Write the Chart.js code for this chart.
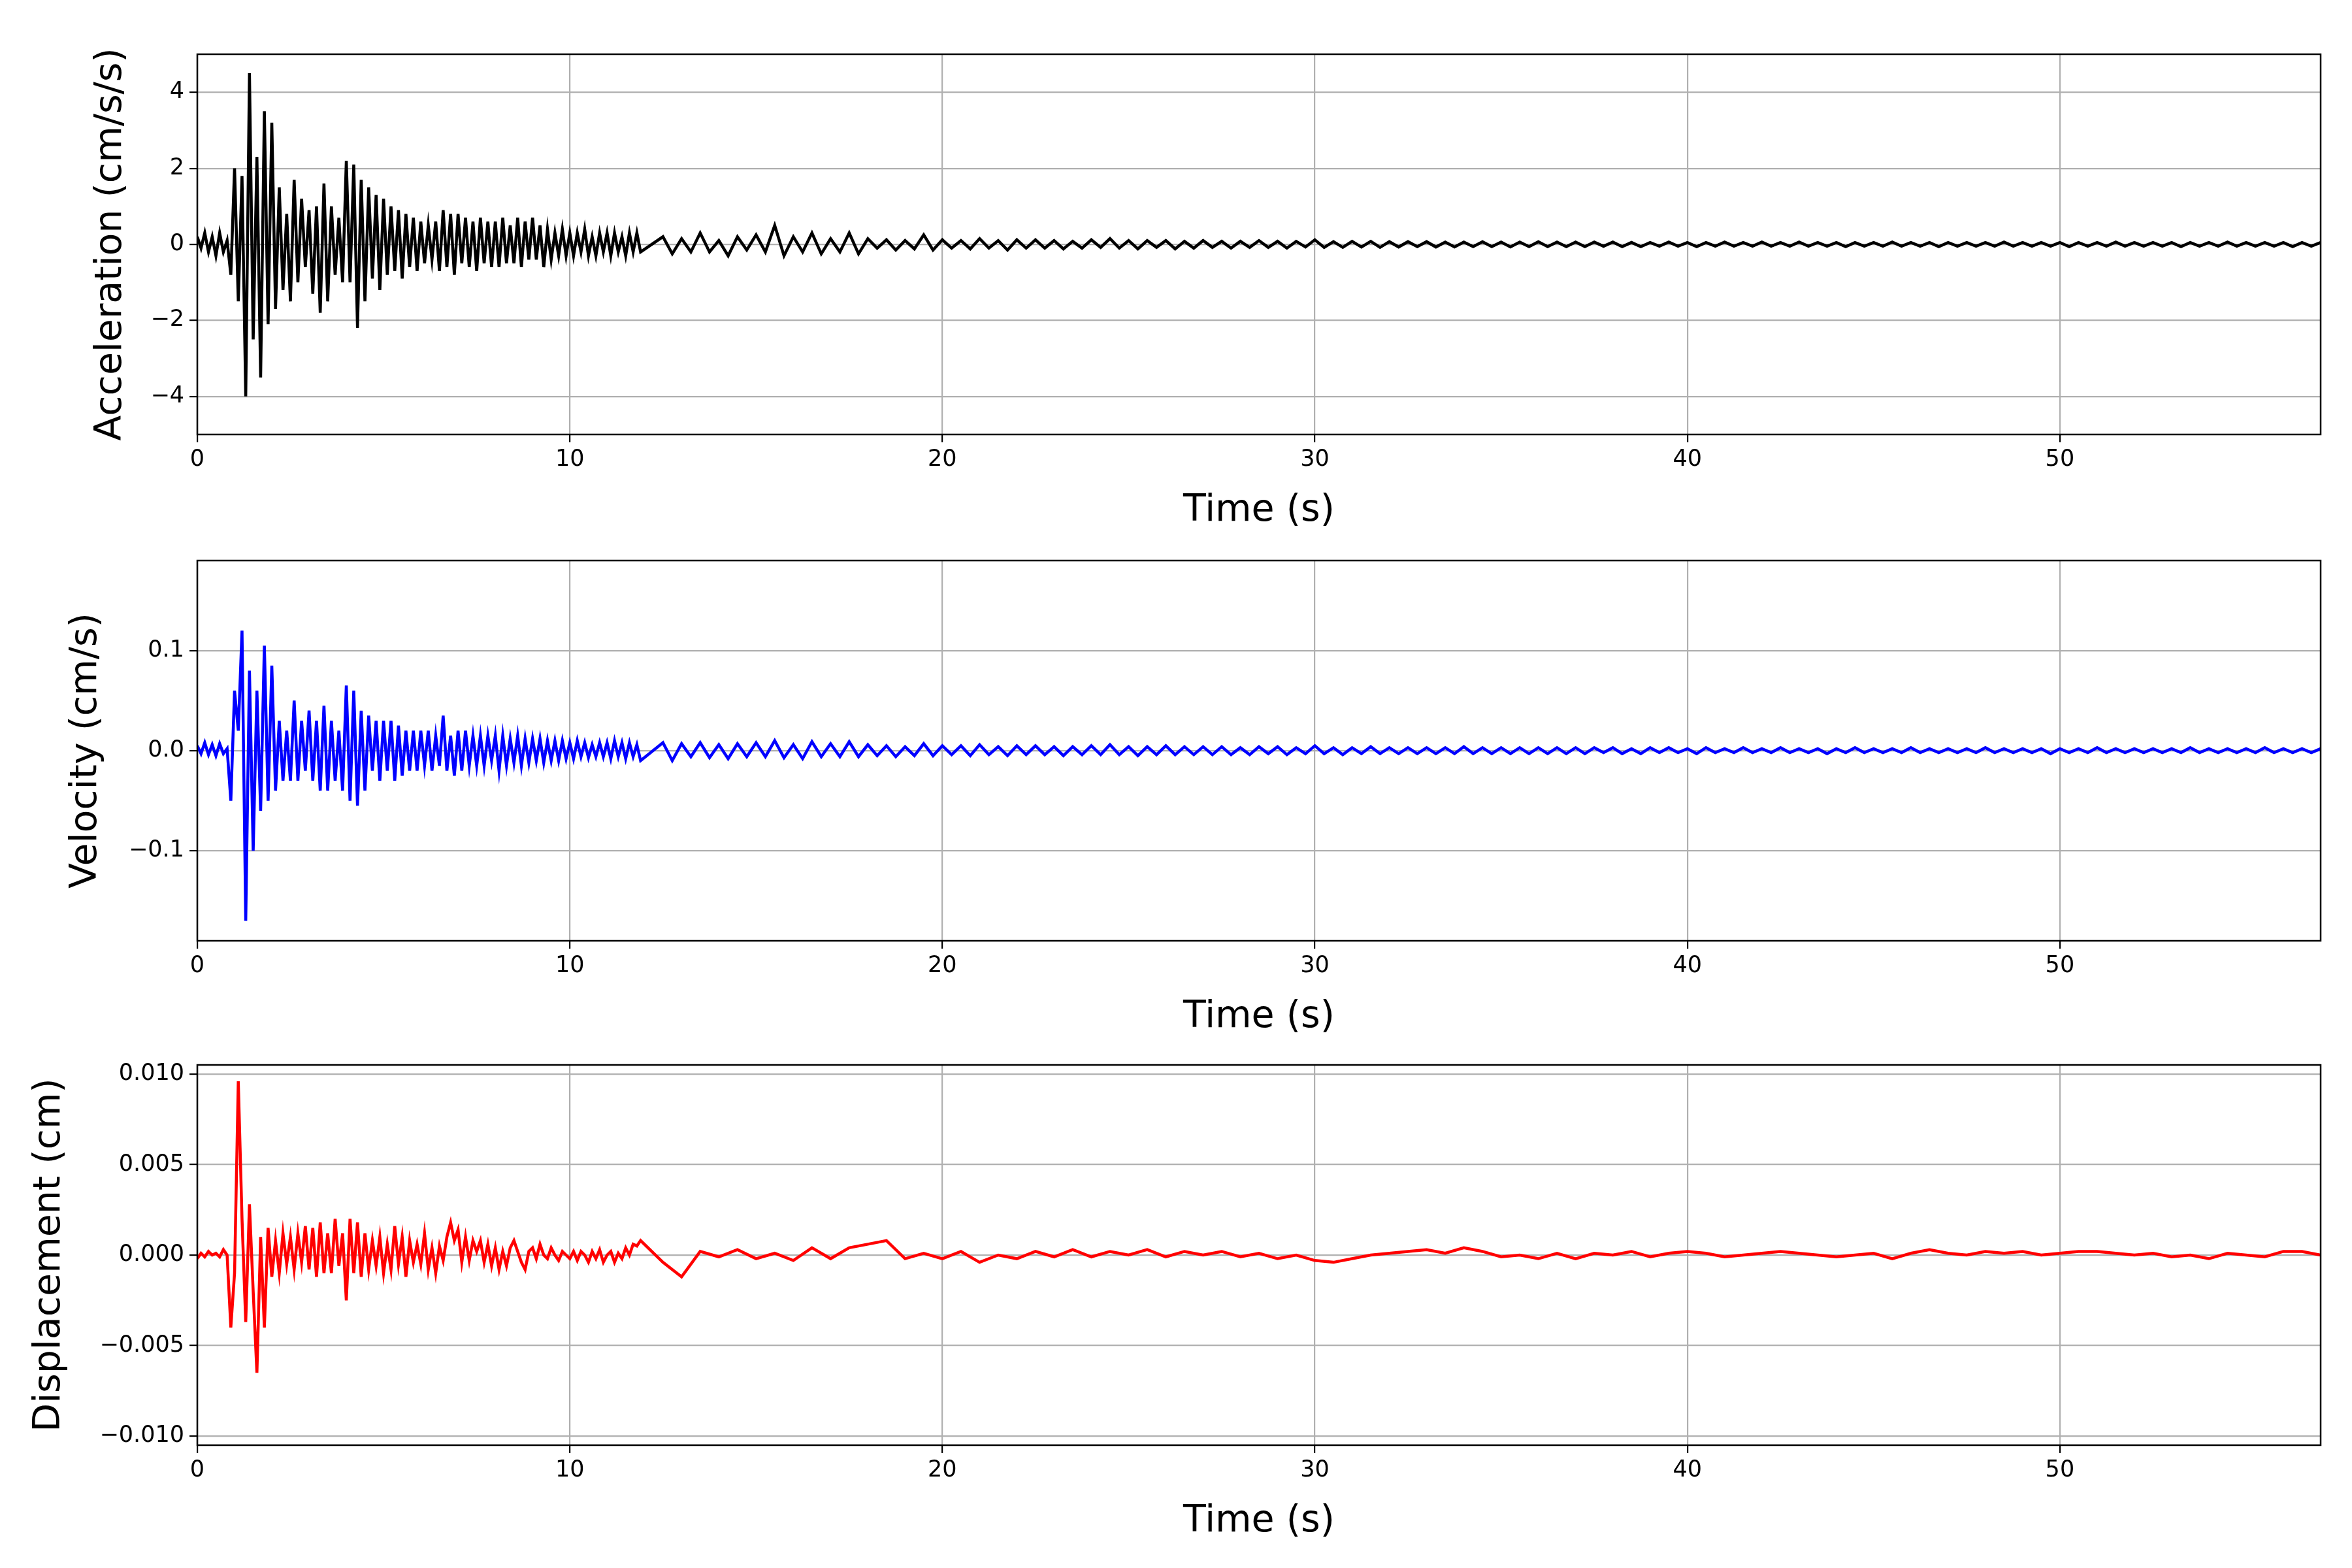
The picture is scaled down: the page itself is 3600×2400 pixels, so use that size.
<!DOCTYPE html>
<html>
<head>
<meta charset="utf-8">
<script src="https://cdn.jsdelivr.net/npm/chart.js@4/dist/chart.umd.min.js"></script>
<style>
body{margin:0;background:#fff;width:3600px;height:2400px;position:relative;overflow:hidden}
canvas{position:absolute;left:0}
</style>
</head>
<body>
<canvas id="c0" width="3600" height="820" style="top:0px"></canvas>
<canvas id="c1" width="3600" height="820" style="top:775px"></canvas>
<canvas id="c2" width="3600" height="820" style="top:1547px"></canvas>
<script>
// sampling: 0.1 s for first 12 s, then coarser to the end
var earlyStep = 0.1, lateStart = 12.5, lateStepFine = 0.25, lateStepDisp = 0.5;
var xTicks = [0, 10, 20, 30, 40, 50];

var accEarly = [0.2,-0.1,0.3,-0.2,0.2,-0.3,0.3,-0.2,0.1,-0.8,
 2.0,-1.5,1.8,-4.0,4.5,-2.5,2.3,-3.5,3.5,-2.1,
 3.2,-1.7,1.5,-1.2,0.8,-1.5,1.7,-1.0,1.2,-0.6,
 0.9,-1.3,1.0,-1.8,1.6,-1.5,1.0,-0.8,0.7,-1.0,
 2.2,-1.0,2.1,-2.2,1.7,-1.5,1.5,-0.9,1.3,-1.2,
 1.2,-0.8,1.0,-0.7,0.9,-0.9,0.8,-0.6,0.7,-0.7,
 0.6,-0.5,0.5,-0.4,0.6,-0.7,0.9,-0.6,0.8,-0.8,
 0.8,-0.5,0.7,-0.6,0.6,-0.7,0.7,-0.5,0.6,-0.6,
 0.6,-0.6,0.7,-0.5,0.5,-0.5,0.7,-0.6,0.6,-0.4,
 0.7,-0.4,0.5,-0.6,0.4,-0.4,0.3,-0.3,0.4,-0.3,
 0.3,-0.3,0.3,-0.2,0.4,-0.3,0.2,-0.3,0.3,-0.2,
 0.3,-0.3,0.3,-0.2,0.2,-0.3,0.3,-0.2,0.3,-0.2];
var accLate = [0.2,-0.25,0.15,-0.2,0.3,-0.2,0.1,-0.3,0.2,-0.15,0.25,-0.2,0.5,-0.3,0.2,-0.2,0.3,-0.25,0.15,-0.2,
 0.3,-0.25,0.15,-0.1,0.12,-0.15,0.1,-0.12,0.25,-0.15,0.12,-0.1,0.1,-0.12,0.15,-0.1,0.1,-0.15,0.12,-0.1,
 0.12,-0.1,0.1,-0.12,0.08,-0.1,0.12,-0.08,0.15,-0.1,0.1,-0.12,0.1,-0.08,0.1,-0.12,0.08,-0.1,0.1,-0.08,
 0.08,-0.1,0.08,-0.08,0.1,-0.08,0.08,-0.1,0.08,-0.07,0.12,-0.08,0.07,-0.08,0.08,-0.07,0.08,-0.08,0.07,-0.07,
 0.07,-0.06,0.07,-0.07,0.06,-0.07,0.06,-0.06,0.07,-0.06,0.06,-0.07,0.06,-0.06,0.07,-0.06,0.06,-0.06,0.06,-0.06,
 0.06,-0.05,0.06,-0.06,0.05,-0.06,0.05,-0.05,0.06,-0.05,0.05,-0.06,0.05,-0.05,0.06,-0.05,0.05,-0.05,0.06,-0.05,
 0.05,-0.05,0.06,-0.05,0.05,-0.05,0.05,-0.06,0.05,-0.05,0.05,-0.05,0.06,-0.05,0.05,-0.05,0.05,-0.06,0.05,-0.05,
 0.05,-0.05,0.05,-0.05,0.06,-0.05,0.05,-0.05,0.05,-0.05,0.05,-0.06,0.05,-0.05,0.05,-0.05,0.06,-0.05,0.05,-0.05,
 0.05,-0.05,0.05,-0.06,0.05,-0.05,0.05,-0.05,0.06,-0.05,0.05,-0.05,0.05,-0.05,0.05,-0.06,0.05,-0.05,0.05,-0.05];

var velEarly = [0.005,-0.003,0.008,-0.004,0.006,-0.005,0.007,-0.003,0.002,-0.05,
 0.06,0.02,0.12,-0.17,0.08,-0.10,0.06,-0.06,0.105,-0.05,
 0.085,-0.04,0.03,-0.03,0.02,-0.03,0.05,-0.03,0.03,-0.02,
 0.04,-0.03,0.03,-0.04,0.045,-0.04,0.03,-0.03,0.02,-0.04,
 0.065,-0.05,0.06,-0.055,0.04,-0.04,0.035,-0.02,0.03,-0.03,
 0.03,-0.02,0.03,-0.03,0.025,-0.025,0.02,-0.02,0.02,-0.02,
 0.02,-0.015,0.02,-0.02,0.015,-0.015,0.035,-0.02,0.015,-0.025,
 0.02,-0.02,0.02,-0.015,0.015,-0.015,0.015,-0.015,0.015,-0.01,
 0.015,-0.02,0.015,-0.015,0.012,-0.012,0.015,-0.015,0.012,-0.012,
 0.012,-0.01,0.012,-0.012,0.01,-0.01,0.01,-0.01,0.01,-0.008,
 0.008,-0.008,0.01,-0.006,0.008,-0.007,0.006,-0.006,0.008,-0.006,
 0.008,-0.008,0.01,-0.006,0.008,-0.008,0.008,-0.006,0.006,-0.01];
var velLate = [0.008,-0.01,0.007,-0.006,0.008,-0.007,0.006,-0.008,0.007,-0.006,0.008,-0.006,0.01,-0.007,0.006,-0.008,0.009,-0.006,0.007,-0.006,
 0.009,-0.006,0.006,-0.005,0.005,-0.006,0.004,-0.005,0.007,-0.005,0.005,-0.004,0.005,-0.005,0.006,-0.004,0.004,-0.005,0.005,-0.004,
 0.005,-0.004,0.004,-0.005,0.004,-0.004,0.005,-0.004,0.006,-0.004,0.004,-0.005,0.004,-0.004,0.005,-0.004,0.004,-0.004,0.004,-0.004,
 0.004,-0.004,0.003,-0.004,0.004,-0.003,0.004,-0.004,0.003,-0.003,0.005,-0.003,0.003,-0.004,0.003,-0.003,0.004,-0.003,0.003,-0.003,
 0.003,-0.003,0.003,-0.003,0.003,-0.003,0.004,-0.003,0.003,-0.003,0.003,-0.003,0.003,-0.003,0.003,-0.003,0.003,-0.003,0.003,-0.003,
 0.003,-0.002,0.003,-0.003,0.002,-0.003,0.003,-0.002,0.003,-0.002,0.002,-0.003,0.003,-0.002,0.002,-0.002,0.003,-0.002,0.002,-0.002,
 0.003,-0.002,0.002,-0.002,0.002,-0.003,0.002,-0.002,0.003,-0.002,0.002,-0.002,0.002,-0.002,0.003,-0.002,0.002,-0.002,0.002,-0.002,
 0.002,-0.002,0.003,-0.002,0.002,-0.002,0.002,-0.002,0.002,-0.003,0.002,-0.002,0.002,-0.002,0.003,-0.002,0.002,-0.002,0.002,-0.002,
 0.002,-0.002,0.002,-0.002,0.003,-0.002,0.002,-0.002,0.002,-0.002,0.002,-0.002,0.003,-0.002,0.002,-0.002,0.002,-0.002,0.002,-0.002];

var dispEarly = [-0.0002,0.0001,-0.0001,0.0002,0,0.0001,-0.0001,0.0003,0,-0.0040,
 -0.0010,0.0096,0.0020,-0.0037,0.0028,-0.0020,-0.0065,0.0010,-0.0040,0.0015,
 -0.0012,0.0008,-0.0010,0.0012,-0.0005,0.0010,-0.0008,0.0012,-0.0004,0.0016,
 -0.0008,0.0015,-0.0012,0.0018,-0.0010,0.0012,-0.0010,0.0020,-0.0006,0.0012,
 -0.0025,0.0020,-0.0010,0.0018,-0.0012,0.0012,-0.0008,0.0008,-0.0006,0.0010,
 -0.0010,0.0006,-0.0008,0.0016,-0.0005,0.0010,-0.0012,0.0008,-0.0004,0.0006,
 -0.0005,0.0012,-0.0008,0.0004,-0.0010,0.0005,-0.0003,0.0010,0.0018,0.0008,
 0.0014,-0.0004,0.0010,-0.0003,0.0008,0.0002,0.0008,-0.0004,0.0006,-0.0006,
 0.0004,-0.0008,0.0002,-0.0006,0.0004,0.0008,0.0002,-0.0004,-0.0008,0.0002,
 0.0004,-0.0002,0.0006,0,-0.0002,0.0004,0,-0.0003,0.0002,0,
 -0.0002,0.0002,-0.0003,0.0002,0,-0.0004,0.0002,-0.0002,0.0003,-0.0004,
 0,0.0002,-0.0004,0.0001,-0.0002,0.0004,0,0.0006,0.0005,0.0008];
var dispLate = [-0.0004,-0.0012,0.0002,-0.0001,0.0003,-0.0002,0.0001,-0.0003,0.0004,-0.0002,
 0.0004,0.0006,0.0008,-0.0002,0.0001,-0.0002,0.0002,-0.0004,0,-0.0002,
 0.0002,-0.0001,0.0003,-0.0001,0.0002,0,0.0003,-0.0001,0.0002,0,
 0.0002,-0.0001,0.0001,-0.0002,0,-0.0003,-0.0004,-0.0002,0,0.0001,
 0.0002,0.0003,0.0001,0.0004,0.0002,-0.0001,0,-0.0002,0.0001,-0.0002,
 0.0001,0,0.0002,-0.0001,0.0001,0.0002,0.0001,-0.0001,0,0.0001,
 0.0002,0.0001,0,-0.0001,0,0.0001,-0.0002,0.0001,0.0003,0.0001,
 0,0.0002,0.0001,0.0002,0,0.0001,0.0002,0.0002,0.0001,0,
 0.0001,-0.0001,0,-0.0002,0.0001,0,-0.0001,0.0002,0.0002,0];

var accTicks = [-4, -2, 0, 2, 4];
var velTicks = [-0.1, 0.0, 0.1];
var dispTicks = [-0.010, -0.005, 0.000, 0.005, 0.010];

function points(early, late, step) {
  var pts = [];
  early.forEach(function(v, i){ pts.push({x: +(i*earlyStep).toFixed(2), y: v}); });
  late.forEach(function(v, i){ pts.push({x: lateStart + i*step, y: v}); });
  return pts;
}

var frame = {
  id: 'frame',
  afterDraw: function(chart){
    var a = chart.chartArea, ctx = chart.ctx;
    ctx.save(); ctx.strokeStyle = '#000'; ctx.lineWidth = 2.5;
    ctx.strokeRect(a.left, a.top, a.right - a.left, a.bottom - a.top);
    ctx.restore();
  }
};

function fmt(dec){
  return function(v){ var s = Math.abs(v).toFixed(dec); return (v < 0 ? '\u2212' : '') + s; };
}

function makeChart(id, data, color, title, ymin, ymax, yt, dec, leftPad){
  new Chart(document.getElementById(id), {
    type: 'line',
    data: { datasets: [{ data: data, borderColor: color, borderWidth: 4.5, pointRadius: 0, tension: 0 }] },
    plugins: [frame],
    options: {
      responsive: false, animation: false, devicePixelRatio: 1,
      layout: { padding: { top: 83, right: 48, left: leftPad, bottom: 0 } },
      plugins: { legend: { display: false }, tooltip: { enabled: false } },
      scales: {
        x: {
          type: 'linear', min: 0, max: 57,
          afterBuildTicks: function(s){ s.ticks = xTicks.map(function(v){ return {value: v}; }); },
          afterFit: function(s){ s.height = 155; },
          ticks: { color: '#000', font: { family: 'DejaVu Sans', size: 35 }, padding: 6, maxRotation: 0 },
          grid: { color: '#b0b0b0', lineWidth: 2.2, tickColor: '#000', tickLength: 12 },
          border: { display: false },
          title: { display: true, text: 'Time (s)', color: '#000', font: { family: 'DejaVu Sans', size: 57 }, padding: { top: 0 } }
        },
        y: {
          min: ymin, max: ymax,
          afterBuildTicks: function(s){ s.ticks = yt.map(function(v){ return {value: v}; }); },
          afterFit: function(s){ s.width = 302 - leftPad; },
          ticks: { color: '#000', font: { family: 'DejaVu Sans', size: 35 }, padding: 8, callback: fmt(dec) },
          grid: { color: '#b0b0b0', lineWidth: 2.2, tickColor: '#000', tickLength: 12 },
          border: { display: false },
          title: { display: true, text: title, color: '#000', font: { family: 'DejaVu Sans', size: 57 }, padding: { bottom: 6 } }
        }
      }
    }
  });
}

makeChart('c0', points(accEarly, accLate, lateStepFine), '#000000', 'Acceleration (cm/s/s)', -5, 5, accTicks, 0, 132);
makeChart('c1', points(velEarly, velLate, lateStepFine), '#0000ff', 'Velocity (cm/s)', -0.19, 0.19, velTicks, 1, 94);
makeChart('c2', points(dispEarly, dispLate, lateStepDisp), '#ff0000', 'Displacement (cm)', -0.0105, 0.0105, dispTicks, 3, 38);
</script>
</body>
</html>
